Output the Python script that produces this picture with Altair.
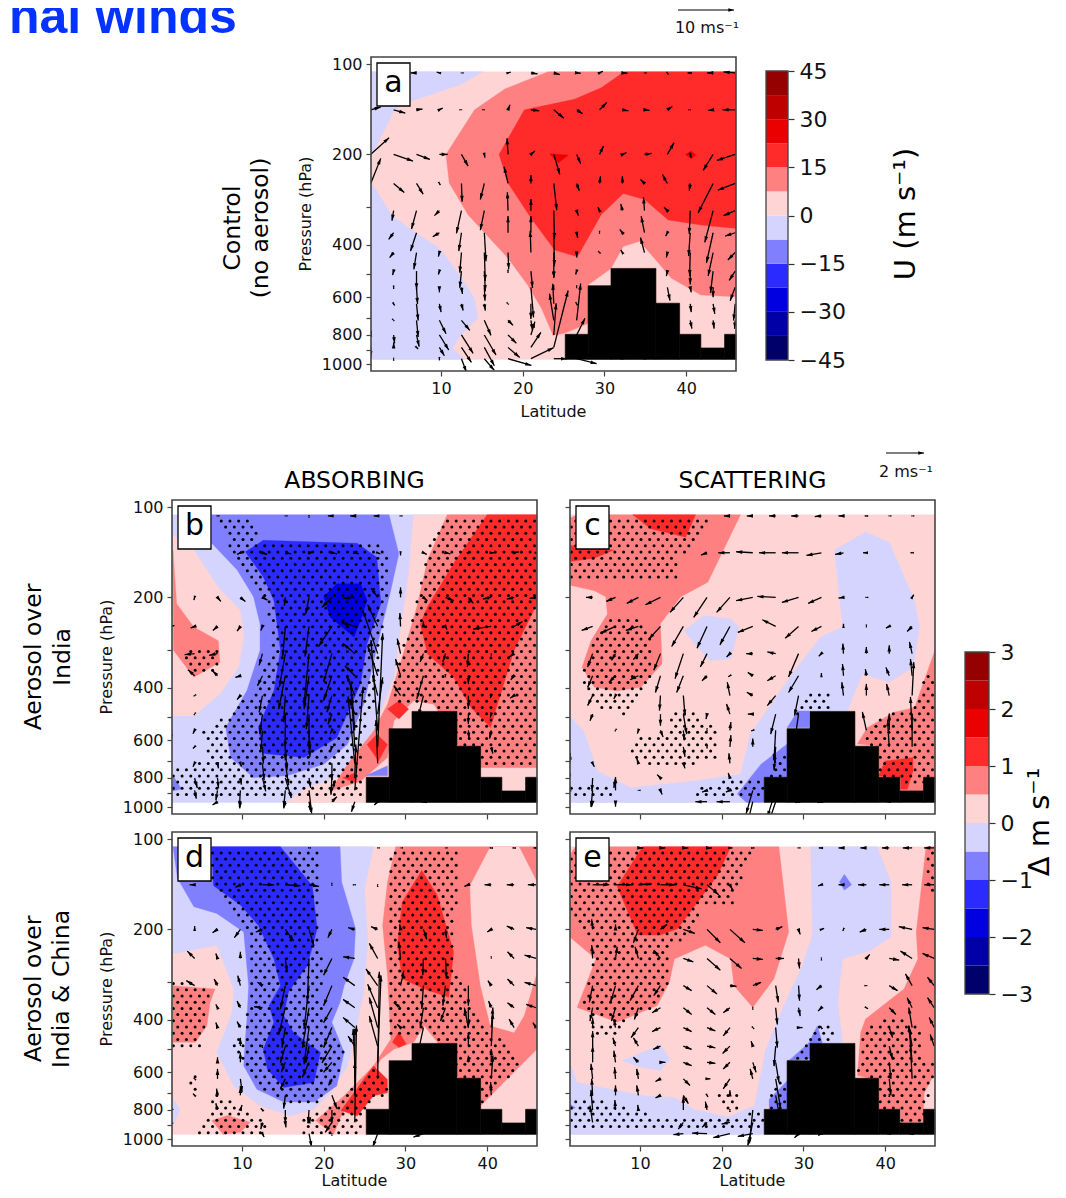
import numpy as np
import pandas as pd
import altair as alt

FONT = "DejaVu Sans"
B3, B2, B1, PB = "#0000e1", "#2b2bff", "#8080ff", "#d4d4ff"
PR, R1, R2, R3 = "#ffd4d4", "#ff8080", "#ff2b2b", "#ea0000"
BAND_COLORS = ["#00006a", "#0000a6", B3, B2, B1, PB, PR, R1, R2, R3, "#bf0000", "#950000"]

LAT_MIN, LAT_MAX, P_TOP, P_BOT = 1.43, 46.1, 94.7, 1055.0
PX_PER_DEG, PX_PER_DECADE = 8.17, 299.0
GRID_TOP, GRID_BOT = 106, 965
COLS = [1.4, 4.2, 7.0, 9.8, 12.5, 15.3, 18.2, 21.0, 23.8, 26.6, 29.4, 32.2, 34.9, 37.7, 40.5, 43.3, 46.0]
LEVELS = [107, 142, 200, 250, 308, 365, 425, 490, 555, 630, 715, 800, 880, 960]
TERRAIN_EDGES = [25.2, 28.0, 30.8, 36.3, 39.2, 41.8, 44.7, 46.1]
TERRAIN_TOPS = [796, 548, 480, 627, 796, 884, 796]

POLY_A = [
    (PR, [(1.4, GRID_TOP), (46.1, GRID_TOP), (46.1, GRID_BOT), (1.4, GRID_BOT)]),
    (PB, [(1.4,106),(15.1,106),(12.4,117),(6.3,133),(4.3,142),(1.6,200),(1.4,200)]),
    (PB, [(1.4,249),(2.2,266),(3.9,318),(6.7,362),(9.8,411),(12.0,493),(14.1,604),(14.5,705),(12.4,802),(11.4,888),(12.9,965),(1.4,965)]),
    (R1, [(23.1,106),(17.8,121),(14.1,142),(10.6,200),(11.0,249),(13.3,318),(18.2,444),(20.6,545),(22.3,653),(23.7,802),(25.1,790),(28.0,733),(28.0,545),(30.8,480),(32.3,406),(34.3,390),(36.1,444),(38.2,518),(41.8,589),(46.1,597),(46.1,106)]),
    (R2, [(32.4,106),(29.6,120),(26.3,131),(20.2,142),(17.1,200),(18.2,249),(21.0,326),(23.9,417),(26.7,439),(29.6,318),(32.3,270),(34.9,283),(37.8,331),(41.8,344),(46.1,353),(46.1,106)]),
    (R3, [(23.3,199),(25.6,201),(24.3,214)]),
    (R3, [(39.9,200),(40.6,195),(41.2,201),(40.6,207)]),
]
POLY_B = [
    (PB, [(1.4, GRID_TOP), (46.1, GRID_TOP), (46.1, GRID_BOT), (1.4, GRID_BOT)]),
    (PR, [(1.55,124),(4.1,139),(7.1,185),(9.8,221),(10.2,271),(9.6,342),(7.3,420),(4.1,497),(1.55,497)]),
    (R1, [(1.55,139),(2.0,210),(4.1,251),(7.1,279),(7.3,329),(4.1,369),(1.6,300)]),
    (PR, [(31.0,106),(46.1,106),(46.1,965),(15.5,965),(17.6,870),(21.6,798),(26.1,558),(28.6,369),(30.4,167)]),
    (R1, [(35.1,106),(46.1,106),(46.1,739),(39.2,739),(36.3,619),(33.5,454),(31.0,442),(28.6,516),(27.8,684),(24.5,820),(20.8,884),(22.9,720),(26.1,558),(27.8,454),(29.6,317),(31.4,215),(32.7,150)]),
    (R2, [(40.0,106),(46.1,106),(46.1,210),(43.3,300),(40.4,543),(38.0,466),(35.9,369),(32.7,309),(31.8,245),(32.7,215),(35.9,154)]),
    (R2, [(27.8,471),(29.2,442),(30.4,471),(29.2,509)]),
    (R2, [(25.3,619),(26.5,572),(27.8,619),(26.7,702)]),
    (R2, [(22.3,800),(23.8,770),(24.0,830)]),
    (B1, [(6.3,106),(28.0,106),(29.2,143),(28.2,190),(27.0,258),(24.9,454),(22.9,619),(20.0,720),(15.5,787),(11.4,798),(8.6,684),(8.0,543),(10.6,409),(12.2,300),(12.2,245),(11.4,199),(9.4,162),(6.3,132)]),
    (B1, [(1.55,787),(2.6,870),(1.55,884)]),
    (B1, [(25.1,787),(27.8,729),(27.8,787)]),
    (B2, [(10.4,141),(12.6,129),(24.1,132),(26.5,147),(27.0,210),(25.3,286),(24.5,388),(21.6,588),(17.6,684),(12.6,663),(12.0,543),(13.9,409),(14.7,300),(13.9,205),(12.6,171)]),
    (B3, [(20.0,199),(21.6,180),(24.5,180),(25.3,205),(24.5,239),(23.7,271),(20.8,233)]),
]
POLY_C = [
    (PR, [(1.4, GRID_TOP), (46.1, GRID_TOP), (46.1, GRID_BOT), (1.4, GRID_BOT)]),
    (R1, [(1.4,109),(2.3,106),(22.3,106),(18.3,178),(15.0,199),(12.5,245),(12.7,333),(10.1,399),(7.2,410),(4.4,399),(2.9,342),(4.0,279),(6.0,227),(5.8,199),(4.4,190),(1.4,182)]),
    (R2, [(9.1,106),(16.8,106),(15.6,126),(11.3,118)]),
    (R2, [(1.4,134),(4.0,137),(6.8,139),(4.4,148),(1.4,152)]),
    (PB, [(1.4,497),(3.1,558),(4.8,760),(8.9,862),(16.6,819),(22.3,777),(23.5,572),(28.9,351),(32.1,271),(34.8,251),(33.8,139),(37.6,121),(40.5,131),(43.6,205),(44.2,251),(43.4,342),(40.5,384),(37.2,360),(35.4,478),(24.8,965),(1.4,965)]),
    (PB, [(15.4,258),(17.8,230),(21.1,236),(22.1,251),(21.1,321),(18.6,325),(17.0,293)]),
    (B1, [(21.9,904),(24.8,720),(28.0,616),(28.0,798),(25.2,798),(25.2,965),(23.0,965)]),
    (B1, [(28.0,544),(29.3,478),(30.7,478),(30.7,544)]),
    (R1, [(36.6,616),(37.8,544),(41.1,483),(43.6,466),(45.2,351),(46.1,300),(46.1,884),(41.9,884),(41.9,798),(39.0,798),(39.0,625)]),
    (R2, [(40.0,702),(43.4,684),(43.4,760),(42.7,873),(41.9,873),(41.9,798),(39.2,787)]),
]
POLY_D = [
    (PR, [(1.4, GRID_TOP), (46.1, GRID_TOP), (46.1, GRID_BOT), (1.4, GRID_BOT)]),
    (PB, [(1.55,106),(26.1,106),(25.0,146),(25.4,220),(24.9,323),(23.7,465),(22.9,570),(20.8,701),(18.8,795),(15.9,838),(12.2,775),(9.0,665),(6.9,514),(8.8,378),(9.0,316),(6.9,226),(1.55,241)]),
    (B1, [(1.55,106),(22.0,106),(22.2,139),(23.9,199),(23.7,251),(22.5,308),(22.0,350),(21.0,408),(22.5,514),(21.6,665),(18.8,753),(15.1,753),(11.8,682),(10.2,570),(10.4,465),(10.6,398),(10.8,308),(10.2,204),(6.9,177),(4.1,168),(2.1,135)]),
    (B2, [(6.3,106),(14.7,106),(18.6,143),(19.2,199),(18.0,264),(15.7,323),(15.1,388),(16.3,441),(19.6,514),(18.8,648),(15.1,673),(13.1,585),(12.6,502),(13.9,408),(13.3,359),(14.7,308),(13.9,251),(12.0,194),(9.8,166),(6.5,143)]),
    (R1, [(28.8,106),(46.1,106),(46.1,502),(42.4,633),(39.2,775),(36.3,615),(33.9,476),(32.3,419),(31.0,476),(28.6,502),(27.0,542),(26.1,600),(22.5,795),(21.2,965),(19.0,868),(22.5,718),(26.1,570),(28.2,465),(27.8,285),(27.2,194),(27.8,139)]),
    (PR, [(37.9,143),(40.4,106),(43.9,106),(46.1,139),(46.1,278),(44.5,388),(43.3,441),(40.4,419),(39.2,308),(38.1,194)]),
    (PB, [(1.6,737),(2.4,795),(1.6,902)]),
    (R2, [(32.0,127),(33.9,154),(35.9,238),(35.3,337),(32.3,316),(29.6,292),(29.0,226),(29.6,162)]),
    (R2, [(28.4,476),(29.2,439),(30.1,482),(29.2,495)]),
    (R2, [(22.1,804),(26.1,570),(27.8,633),(27.8,701),(26.1,718),(24.1,838)]),
    (R1, [(1.55,308),(6.7,316),(6.1,350),(5.7,419),(4.3,476),(1.55,476)]),
    (R1, [(6.3,868),(8.2,834),(11.0,880),(9.8,950),(7.7,965)]),
]
POLY_E = [
    (PR, [(1.4, GRID_TOP), (46.1, GRID_TOP), (46.1, GRID_BOT), (1.4, GRID_BOT)]),
    (R1, [(1.4,113),(2.1,106),(27.0,106),(28.2,204),(26.4,292),(23.8,364),(21.5,308),(21.1,251),(18.0,226),(14.2,251),(13.6,300),(12.1,359),(7.2,408),(2.3,364),(4.6,251),(1.4,212)]),
    (R2, [(10.3,106),(21.1,106),(19.5,132),(14.6,199),(12.5,209),(9.7,209),(7.2,144)]),
    (PB, [(30.9,106),(39.0,106),(40.7,139),(40.7,212),(38.2,235),(34.8,251),(34.2,350),(34.8,476),(25.2,795),(25.2,965),(1.4,965),(1.4,556),(2.3,648),(10.5,718),(14.2,727),(16.6,795),(20.7,846),(24.0,775),(25.4,502),(27.6,359),(29.7,271),(31.1,209)]),
    (PB, [(7.8,548),(12.5,486),(13.7,542),(12.5,591),(10.1,576)]),
    (R1, [(45.0,106),(43.8,204),(44.0,251),(42.3,316),(37.6,398),(37.0,441),(36.6,615),(39.0,633),(39.0,795),(41.9,795),(41.9,882),(44.6,882),(44.8,701),(46.1,600),(46.1,106)]),
    (B1, [(34.4,139),(35.0,131),(35.9,142),(35.0,148)]),
    (B1, [(25.8,737),(28.0,640),(28.0,795),(25.8,795)]),
    (B1, [(28.4,542),(30.5,482),(30.7,476),(31.7,419),(32.3,476),(30.7,542),(28.0,548)]),
    (B1, [(1.4,765),(2.1,786),(1.4,804)]),
]

DOTS_B = [
    [(6.3,108),(11.4,108),(12.2,129),(27.0,129),(28.2,143),(27.4,258),(26.1,466),(24.5,588),(24.9,945),(1.6,945),(1.6,749),(5.7,702),(5.3,558),(8.2,490),(12.2,388),(13.5,300),(13.9,245),(11.4,185),(9.4,154),(8.2,129)],
    [(35.1,108),(46.0,108),(46.0,739),(39.2,720),(36.3,619),(35.9,478),(31.0,454),(28.6,454),(28.2,409),(30.6,239),(32.7,139)],
    [(2.9,300),(4.1,293),(6.9,293),(7.3,325),(6.5,351),(4.1,369),(2.9,342)],
]
DOTS_C = [
    [(1.4,107),(18.5,107),(16.3,136),(14.9,147),(14.5,171),(1.4,171)],
    [(5.6,233),(9.7,227),(11.3,271),(11.3,379),(10.1,410),(10.3,431),(8.0,490),(5.2,478),(3.1,410),(3.1,342),(4.8,265)],
    [(14.2,471),(17.0,490),(19.5,558),(19.5,684),(15.8,739),(10.9,739),(8.4,650),(10.1,586),(12.9,572)],
    [(1.4,829),(5.6,829),(6.8,945),(1.4,945)],
    [(16.9,862),(22.3,798),(25.2,787),(28.0,616),(28.0,787),(25.2,945),(16.9,945)],
    [(28.9,466),(31.7,401),(33.4,420),(33.4,478),(30.7,478),(28.9,503)],
    [(36.6,616),(39.5,503),(43.2,466),(45.2,351),(46.0,369),(46.0,787),(43.6,873),(39.5,787),(39.0,625)],
]
DOTS_D = [
    [(6.3,107),(19.6,107),(19.4,204),(20.0,278),(19.6,350),(20.4,419),(22.5,514),(22.1,633),(19.2,753),(15.1,753),(11.8,682),(9.8,570),(8.2,488),(10.2,453),(11.0,323),(11.2,215),(9.8,189),(8.2,166),(6.3,146)],
    [(28.2,107),(36.3,107),(36.3,150),(35.9,251),(37.1,300),(39.2,419),(40.8,441),(43.3,527),(44.5,570),(42.0,648),(39.2,775),(36.1,615),(33.9,476),(32.3,419),(31.0,465),(27.8,465),(27.8,285),(27.8,150)],
    [(1.55,292),(4.5,300),(6.1,333),(5.3,441),(5.3,495),(1.55,495)],
    [(5.3,727),(7.4,701),(10.2,795),(13.0,861),(13.0,955),(4.1,955),(6.3,815)],
    [(17.1,861),(22.1,737),(26.1,570),(27.8,633),(27.8,718),(24.9,795),(24.9,955),(17.1,955)],
    [(3.3,600),(4.9,600),(4.5,701),(3.5,701)],
]
DOTS_E = [
    [(1.4,107),(24.8,107),(21.5,146),(21.5,166),(17.4,170),(17.4,189),(15.8,220),(13.8,226),(13.4,323),(10.1,398),(7.2,408),(2.7,373),(4.4,251),(3.6,209),(1.4,179)],
    [(2.7,413),(8.0,413),(7.6,447),(4.8,447)],
    [(1.4,737),(7.2,753),(9.7,815),(17.8,861),(20.7,838),(24.0,815),(25.2,795),(25.2,950),(2.7,950),(1.4,861)],
    [(19.9,682),(21.9,701),(22.3,775),(20.7,829),(19.5,737)],
    [(25.8,665),(28.0,633),(28.0,795),(25.8,795)],
    [(28.4,542),(30.7,465),(31.7,408),(33.6,419),(33.6,476),(30.7,476),(30.7,542)],
    [(37.0,441),(39.9,398),(44.4,408),(44.8,570),(46.0,514),(46.0,610),(44.6,882),(41.9,882),(41.9,795),(39.0,795),(39.0,633),(36.6,615)],
    [(45.0,107),(46.0,107),(46.0,162),(45.2,150)],
]

# Wind vectors per pressure level: (column index, eastward, downward) in 1/17 m/s (a) and 1/57 m/s (b-e).
WIND_A = [
    [(2,-18,0),(3,-8,-2),(4,-2,0),(6,8,-2),(7,20,3),(8,18,5),(9,12,1),(10,10,-5),(11,15,1),(12,-2,0),(13,-2,-3),(14,-8,0),(15,-18,0),(16,-35,-3)],
    [(0,30,-8),(1,35,10),(2,18,-2),(3,10,-5),(4,2,0),(5,2,0),(6,6,-15),(7,25,3),(8,30,25),(9,18,12),(10,22,-22),(11,18,3),(12,15,2),(13,15,-10),(14,2,0),(15,-15,2),(16,-38,0)],
    [(0,55,-50),(1,58,20),(2,40,15),(3,25,0),(4,20,35),(5,2,10),(6,-3,-48),(7,12,-10),(8,18,60),(9,12,28),(10,12,-25),(11,12,-5),(12,22,-3),(13,20,-35),(14,3,10),(15,-30,48),(16,-55,18)],
    [(0,30,-75),(1,32,27),(2,20,32),(3,3,5),(4,2,55),(5,-12,48),(6,-12,-50),(7,0,-25),(8,9,80),(9,8,22),(10,3,-22),(11,0,-22),(12,-12,-12),(13,-15,-27),(14,-3,22),(15,-45,88),(16,-52,20)],
    [(1,-5,30),(2,-15,55),(3,-15,15),(4,-15,68),(5,-12,58),(6,-2,-55),(7,0,-35),(8,2,85),(9,5,15),(10,-5,-10),(11,-5,-20),(12,-3,-40),(13,-10,-10),(14,-3,70),(15,-25,95),(16,-35,15)],
    [(1,-15,20),(2,-18,55),(3,-20,12),(4,-8,55),(5,5,85),(6,0,-50),(7,0,-50),(8,2,100),(9,3,15),(10,0,3),(11,-8,-10),(12,-10,-50),(13,-5,10),(14,-5,70),(15,-20,90),(16,-30,10)],
    [(1,-12,15),(2,-8,50),(3,-3,12),(4,-5,60),(5,3,85),(6,2,50),(7,-2,-65),(8,0,75),(9,0,15),(10,3,3),(11,-5,-8),(12,-12,-45),(13,-3,15),(14,-2,70),(15,-15,70),(16,-22,22)],
    [(1,-3,12),(2,0,55),(3,-3,10),(4,-5,50),(5,3,60),(6,0,-5),(7,5,50),(8,0,20),(9,-3,10),(13,-3,15),(14,0,40),(15,-8,65),(16,-18,28)],
    [(1,0,5),(2,3,50),(3,0,15),(4,3,20),(5,2,40),(7,8,90),(8,0,2),(9,0,3),(13,8,40),(14,3,15),(15,0,30),(16,-15,40)],
    [(1,3,5),(2,5,50),(3,5,25),(4,5,20),(5,3,20),(6,2,2),(7,0,45),(8,-3,-60),(9,-3,-5),(14,3,25),(15,5,30),(16,-5,50)],
    [(1,2,2),(2,5,50),(3,20,40),(4,25,30),(5,20,45),(6,15,15),(7,5,30),(8,-13,-80),(9,12,-110),(14,5,25),(15,3,25),(16,-2,25)],
    [(0,2,-12),(1,3,25),(2,8,35),(3,28,45),(4,35,55),(5,35,60),(6,25,25),(7,12,-40),(8,7,-95),(9,25,-50)],
    [(0,0,30),(1,0,-15),(2,5,5),(3,15,25),(4,30,45),(5,30,55),(6,35,30),(7,30,-45),(8,43,-170)],
    [(1,0,-3),(3,0,5),(4,15,40),(5,30,35),(6,70,20),(7,68,-33),(8,40,0),(9,60,15),(11,5,0),(12,-5,0)],
]
WIND_B = [
    [(2,-3,0),(5,-2,0),(6,0,-3),(7,-12,0),(8,-14,0),(9,-12,0),(10,-3,0)],
    [(3,-10,5),(4,15,5),(5,18,3),(6,15,-2),(7,15,3),(8,12,3),(9,8,3),(10,0,8),(11,10,5),(12,15,3),(13,8,-2),(14,10,0),(15,15,-3),(16,8,0)],
    [(1,-2,8),(2,10,12),(3,15,12),(4,15,8),(5,-3,25),(6,-10,50),(7,-30,30),(8,-35,3),(9,-20,-28),(10,0,-30),(11,12,10),(12,25,10),(13,15,18),(14,-25,5),(15,-22,5),(16,-20,3)],
    [(0,8,-3),(1,-12,5),(2,-14,12),(3,-10,14),(4,-5,12),(5,-8,90),(6,-12,90),(7,-40,60),(8,-40,-12),(9,-30,-65),(10,-2,-40),(11,0,-15),(12,5,10),(14,-55,8),(15,25,-15)],
    [(1,-30,3),(2,-25,5),(4,-10,35),(5,-18,100),(6,-15,150),(7,-25,85),(8,-35,-30),(9,-45,-130),(10,-10,-45),(11,-10,25),(12,-8,25),(13,-3,40),(14,0,-2),(15,-15,10)],
    [(1,-20,-18),(2,-15,-15),(3,-15,5),(4,-15,30),(5,-20,100),(6,-15,100),(7,-25,75),(8,-30,-30),(9,-30,-90),(10,-15,-50),(11,-20,70),(12,0,5),(13,0,25),(15,-10,12)],
    [(1,-3,2),(3,-10,12),(4,-10,50),(5,-5,80),(6,-8,100),(7,-15,50),(8,-25,-60),(9,-15,-60),(10,-20,-30),(11,-15,60),(13,0,40),(14,-3,8),(15,-12,8)],
    [(1,-2,3),(4,-8,60),(5,0,100),(6,0,100),(7,-12,30),(8,-15,-45),(9,15,-110),(11,-5,0),(13,0,30),(14,-3,10)],
    [(0,-3,30),(1,-5,10),(4,-5,60),(5,0,90),(6,3,60),(7,-5,10),(8,-8,-100),(9,-20,-270),(13,2,25),(14,-5,25)],
    [(1,-5,5),(4,3,50),(5,5,70),(6,3,30),(7,-5,15),(8,-12,-190),(9,15,-340),(14,5,20)],
    [(1,-5,10),(2,3,15),(3,3,10),(4,5,50),(5,10,65),(6,0,5),(7,0,50),(8,-20,-200),(9,-5,-130)],
    [(1,8,30),(2,3,30),(3,3,20),(4,10,40),(5,18,60),(6,5,30),(7,-3,50),(8,3,-100)],
    [(0,-2,-20),(1,5,25),(2,-5,30),(3,-3,50),(5,-5,50),(6,8,70),(7,10,-30),(8,25,-310)],
    [(2,-15,10),(3,-2,20),(5,-5,20),(6,5,30),(7,15,-15),(8,-10,30),(9,-10,10),(11,10,3)],
]
WIND_C = [
    [(7,-18,0),(8,-18,0),(9,-20,0),(10,-22,0),(11,-20,2),(12,-15,0),(13,-5,0),(14,-2,0),(15,-2,0)],
    [(6,-18,7),(7,-35,0),(8,-50,-3),(9,-50,0),(10,-50,0),(11,-45,8),(12,-25,5),(13,-10,0),(15,-5,0)],
    [(1,-20,0),(2,-28,12),(3,-35,18),(4,-45,22),(5,-40,45),(6,-40,60),(7,-40,45),(8,-50,10),(9,-55,-3),(10,-50,15),(11,-40,18),(12,-15,2),(13,-3,0),(15,5,-8)],
    [(1,-33,12),(2,-45,20),(3,-38,12),(4,-35,38),(5,-35,60),(6,-30,65),(7,-30,55),(8,-45,18),(9,-40,-20),(10,-40,35),(11,-30,15),(12,0,-8),(13,0,3),(14,-10,5),(15,-15,15)],
    [(1,-15,40),(2,-12,20),(3,-15,18),(4,-20,50),(5,-25,75),(6,-20,40),(7,-10,10),(8,-20,0),(9,-25,-5),(10,-30,70),(11,-8,8),(12,-2,-30),(13,0,-20),(14,0,-25),(15,-8,-35)],
    [(1,-15,35),(2,-20,20),(3,-25,12),(4,-15,50),(5,-20,50),(6,-15,15),(7,-5,3),(8,-15,-10),(9,-25,15),(10,-30,50),(11,0,-8),(12,-3,-35),(13,-3,-20),(14,-10,-25),(15,-5,-50)],
    [(1,-15,30),(2,-5,10),(4,-3,45),(5,5,60),(7,-8,-40),(8,-18,-10),(9,-25,30),(10,-12,60),(12,-5,-40),(13,0,-35),(14,-8,-35),(15,5,-100)],
    [(1,-8,20),(4,0,35),(5,10,60),(6,-3,15),(7,-10,-30),(8,-15,0),(9,-15,60),(10,-10,70)],
    [(2,-2,3),(3,-3,10),(4,8,20),(5,3,30),(6,0,3),(7,3,-25),(8,-5,2),(9,-5,90),(13,-12,-55),(14,0,-50),(15,-5,-100)],
    [(5,5,30),(6,0,5),(7,3,-35),(8,0,-25),(9,-5,70),(14,-5,-80),(15,0,-100)],
    [(0,2,-30),(1,5,10),(3,-5,-15),(5,5,15),(7,-3,-30),(9,-5,-30)],
    [(0,-3,-25),(1,-2,40),(2,-5,30),(4,-10,-10),(7,-5,-15)],
    [(0,0,-15),(1,-5,50),(2,0,-40),(3,-2,0),(4,5,12),(6,-15,5),(7,-12,5),(8,-20,70),(9,-25,80)],
    [(1,-3,15),(2,0,15),(6,-35,0),(7,-40,0),(8,-15,60),(9,-20,60),(10,-10,3),(11,-12,3),(14,-8,0)],
]
WIND_D = [
    [(6,-3,0),(9,-2,0),(10,-1,0),(12,-2,0),(14,-5,0),(15,-5,0),(16,-8,0)],
    [(1,-15,0),(3,-15,8),(4,35,0),(5,45,3),(6,30,5),(7,0,3),(8,3,0),(9,0,-2),(13,-12,5),(14,-20,0),(15,-22,0),(16,-25,0)],
    [(1,0,-10),(2,-15,10),(3,-18,25),(4,-20,8),(5,25,35),(6,15,50),(7,-12,25),(8,-20,-5),(9,-20,-8),(10,-3,-15),(11,10,30),(12,3,25),(14,-12,8),(15,-22,-10),(16,-30,-5)],
    [(1,-22,-22),(2,-5,-15),(3,0,-20),(5,5,40),(6,-5,130),(7,-25,50),(8,-35,-5),(9,-25,-45),(10,-5,-50),(11,-2,50),(12,3,60),(14,0,2),(15,-20,-20),(16,-35,-10)],
    [(1,-25,-15),(2,-10,-20),(3,-8,-30),(4,-15,-10),(5,-15,70),(6,-15,130),(7,-25,60),(8,-35,-25),(9,-35,-50),(10,10,-45),(11,-5,70),(12,-8,60),(13,0,60),(14,-10,-15),(15,-20,-20),(16,-35,-10)],
    [(2,-5,-10),(3,-10,-20),(4,-25,-3),(5,-20,80),(6,-20,120),(7,-25,45),(8,-35,-25),(9,-30,-70),(10,-20,-15),(11,-10,60),(12,-15,40),(13,0,60),(14,-8,-20),(15,-20,-15),(16,-30,-10)],
    [(2,-5,-15),(3,-10,-18),(5,-10,60),(6,-15,110),(7,-25,60),(8,-35,-30),(9,-25,-90),(10,-10,-10),(11,-15,70),(13,-12,-60),(14,5,-60),(15,-15,-25),(16,-10,-15)],
    [(3,0,-25),(4,0,-3),(5,-15,50),(6,-10,50),(7,-30,50),(8,-20,-30),(9,-25,-90),(13,0,-40),(14,5,-100)],
    [(2,0,-15),(3,0,-30),(5,-12,30),(6,-20,45),(7,-25,30),(8,-5,-100),(9,10,-260),(13,0,-20),(14,0,-40)],
    [(1,-3,-3),(2,0,-30),(3,5,40),(5,-15,30),(7,-10,20),(8,0,-150),(9,5,-320),(14,5,-70)],
    [(1,-5,-5),(2,-3,-20),(3,0,-25),(5,-5,40),(7,15,40),(8,0,-100),(14,-2,-40)],
    [(0,-3,2),(2,-5,-20),(3,5,-15),(4,-5,-5),(5,0,40),(6,-3,40),(7,0,40)],
    [(0,-3,-3),(4,-5,20),(5,2,15),(6,5,-15),(7,-20,30),(8,5,-290)],
    [(4,5,10),(6,8,40),(7,0,-2),(9,-15,40),(11,-30,10)],
]
WIND_E = [
    [(3,15,0),(4,15,0),(5,15,0),(6,15,0),(7,8,0),(8,5,0),(10,-3,0),(11,-8,0),(12,-15,0),(13,-18,0),(14,-22,0),(15,-28,0),(16,-30,0)],
    [(1,50,0),(2,50,0),(3,40,-3),(4,45,0),(5,55,12),(6,35,30),(7,8,15),(11,-10,3),(12,-15,0),(13,-25,0),(14,-30,0),(15,-30,0),(16,-30,0)],
    [(1,-3,-30),(2,0,-15),(3,-15,40),(4,20,-15),(5,35,12),(6,40,40),(7,45,40),(8,30,3),(9,20,-8),(10,5,15),(11,8,-3),(12,-2,5),(13,-20,8),(14,-30,0),(15,-40,-8),(16,-35,-5)],
    [(1,-3,-40),(2,5,-35),(3,-10,-35),(4,-20,-25),(5,30,10),(6,40,35),(7,35,30),(8,30,3),(9,25,0),(10,3,30),(11,0,-3),(13,10,-12),(14,30,5),(15,-35,-22),(16,-35,-15)],
    [(1,-10,50),(2,-15,50),(3,-25,45),(4,-20,30),(5,25,15),(6,30,25),(7,20,2),(8,25,-10),(9,8,50),(10,3,45),(11,-15,12),(13,3,0),(14,25,15),(15,-20,-35),(16,-20,-25)],
    [(1,-8,40),(2,-12,40),(3,-12,35),(4,-25,15),(5,25,20),(6,25,20),(7,-20,15),(8,0,-3),(9,5,50),(10,5,25),(11,-10,10),(13,5,3),(14,20,20),(15,-15,-30),(16,-20,-30)],
    [(1,0,-30),(2,-5,-25),(3,-22,30),(4,-25,12),(5,25,12),(6,25,10),(7,-20,25),(8,-3,-3),(9,5,60),(10,12,0),(11,-3,-5),(14,10,30),(15,-10,-60),(16,-15,-30)],
    [(1,0,-45),(2,-8,-25),(3,-15,-25),(4,-22,10),(5,25,10),(6,25,5),(7,-22,22),(8,-5,-15),(9,-5,60),(14,10,40),(15,-10,-60),(16,-12,-35)],
    [(1,0,-50),(2,-5,-35),(3,-15,-15),(4,15,0),(5,25,10),(6,25,3),(7,-20,20),(8,10,30),(9,10,60),(14,5,50),(15,-10,-110)],
    [(1,-5,-45),(2,-3,-35),(3,-5,-30),(4,-15,8),(5,20,20),(6,10,0),(7,-20,30),(8,-8,-30),(9,15,90),(14,5,50),(15,-5,-100)],
    [(1,-3,-50),(2,0,-30),(3,-5,-30),(4,-15,8),(5,15,25),(6,3,5),(7,0,-15),(9,15,80),(14,0,-5)],
    [(1,-5,-60),(2,-2,-30),(3,-2,-15),(5,0,-40),(6,-5,-25),(7,0,-3),(8,-10,100)],
    [(0,0,-2),(1,-8,-50),(5,-15,20),(6,-15,15),(7,-25,5),(8,-15,70)],
    [(5,-30,3),(6,-45,-2),(7,-50,12),(8,-45,8),(10,-12,12),(11,-10,5),(14,-8,0),(15,-10,0)],
]

ONE = alt.Data(values=[{"k": 1}])
XS = alt.Scale(domain=[LAT_MIN, LAT_MAX], nice=False, zero=False)
YS = alt.Scale(type="log", domain=[P_TOP, P_BOT], reverse=True, nice=False)
HEAD = "M0,0L0.5,1.7L-0.5,1.7Z"


def text_at(s, x, y, size, angle=0, color="#000", font=FONT, weight="normal", align="center", baseline="middle", clip=False):
    return alt.Chart(ONE).mark_text(text=s, fontSize=size, angle=angle, color=color, font=font, fontWeight=weight,
                                    align=align, baseline=baseline, clip=clip).encode(x=alt.value(x), y=alt.value(y))


def spacer(w, h):
    return alt.Chart(ONE).mark_point(opacity=0, size=1).encode(x=alt.value(w / 2), y=alt.value(h / 2)).properties(
        width=w, height=h, view=alt.ViewBackground(stroke="transparent"))


def in_poly(x, y, poly):
    inside = False
    n = len(poly)
    for i in range(n):
        x1, y1 = poly[i]
        x2, y2 = poly[(i + 1) % n]
        if (y1 > y) != (y2 > y) and x < x1 + (y - y1) * (x2 - x1) / (y2 - y1):
            inside = not inside
    return inside


def dots_frame(regions):
    pts = []
    logs = np.arange(np.log10(106), np.log10(962), 6.2 / PX_PER_DECADE)
    for j, lp in enumerate(logs):
        lats = np.arange(1.6 + (j % 2) * 0.532, 46.1, 8.7 / PX_PER_DEG)
        for la in lats:
            if any(in_poly(la, lp, [(a, np.log10(b)) for a, b in r]) for r in regions):
                pts.append({"lat": float(la), "p": float(10 ** lp)})
    return pd.DataFrame(pts)


def wind_frame(rows):
    out = []
    for level, row in zip(LEVELS, rows):
        for col, dx, dy in row:
            lat, px, py = COLS[col], dx / 3, dy / 3
            L = float(np.hypot(px, py))
            out.append({"lat": lat, "p": level, "lat2": lat + px / PX_PER_DEG,
                        "p2": level * 10 ** (py / PX_PER_DECADE),
                        "ang": float(np.degrees(np.arctan2(px, -py)) % 360),
                        "sz": min(52.0, 10 + L * L * 2.2)})
    return pd.DataFrame(out)


def panel(polys, dots, wind, label, x_labels, y_labels, h=314):
    w = 365
    ax_x = alt.Axis(values=[10, 20, 30, 40], labels=x_labels, title=None, grid=False, domain=False, tickColor="#444",
                    tickWidth=1.2, tickSize=5, labelFontSize=16, labelFont=FONT, labelColor="#111", labelPadding=4)
    ax_y = alt.Axis(values=list(range(100, 1001, 100)), labels=y_labels, title=None, grid=False, domain=False,
                    tickColor="#444", tickWidth=1.2, tickSize=5, labelFontSize=16, labelFont=FONT, labelColor="#111",
                    labelOverlap=False, labelFlush=False, format="d", labelPadding=4,
                    labelExpr="indexof([100,200,400,600,800,1000], datum.value) >= 0 ? datum.label : ''")
    layers = []
    for n, (c, verts) in enumerate(polys):
        closed = verts + [verts[0]]
        df = pd.DataFrame({"lat": [v[0] for v in closed], "p": [v[1] for v in closed], "i": range(len(closed))})
        layers.append(alt.Chart(df).mark_line(fill=c, stroke=c, strokeWidth=0.3, clip=True).encode(
            x=alt.X("lat:Q", scale=XS, axis=ax_x),
            y=alt.Y("p:Q", scale=YS, axis=ax_y),
            order="i:Q"))
    terrain = pd.DataFrame({"a": TERRAIN_EDGES[:-1], "b": TERRAIN_EDGES[1:], "t": TERRAIN_TOPS,
                            "u": [GRID_BOT] * len(TERRAIN_TOPS)})
    layers.append(alt.Chart(terrain).mark_rect(color="#000", stroke="#000", strokeWidth=0.6).encode(
        x=alt.X("a:Q", scale=XS, axis=ax_x), x2="b:Q", y=alt.Y("t:Q", scale=YS, axis=ax_y), y2="u:Q"))
    if dots:
        layers.append(alt.Chart(dots_frame(dots)).mark_point(filled=True, color="#000", size=9, opacity=1).encode(
            x=alt.X("lat:Q", scale=XS, axis=ax_x), y=alt.Y("p:Q", scale=YS, axis=ax_y)))
    wf = wind_frame(wind)
    layers.append(alt.Chart(wf).mark_rule(color="#000", strokeWidth=1.3, clip=True).encode(
        x=alt.X("lat:Q", scale=XS, axis=ax_x), x2="lat2:Q", y=alt.Y("p:Q", scale=YS, axis=ax_y), y2="p2:Q"))
    layers.append(alt.Chart(wf).mark_point(filled=True, color="#000", shape=HEAD, opacity=1, clip=True).encode(
        x=alt.X("lat2:Q", scale=XS, axis=ax_x), y=alt.Y("p2:Q", scale=YS, axis=ax_y),
        angle=alt.Angle("ang:Q", scale=None), size=alt.Size("sz:Q", scale=None)))
    layers.append(alt.Chart(ONE).mark_rect(fill="transparent", stroke="#444", strokeWidth=1.6).encode(
        x=alt.value(0), x2=alt.value(w), y=alt.value(0), y2=alt.value(h)))
    layers.append(alt.Chart(ONE).mark_rect(fill="#fff", stroke="#000", strokeWidth=1.3).encode(
        x=alt.value(6), x2=alt.value(39), y=alt.value(6), y2=alt.value(49)))
    layers.append(text_at(label, 22.5, 35, 30, baseline="alphabetic"))
    return layers


def colorbar(levels, ticks, w, h):
    df = pd.DataFrame({"lo": levels[:-1], "hi": levels[1:], "c": BAND_COLORS})
    ys = alt.Scale(domain=[levels[0], levels[-1]], nice=False, zero=False)
    ax = alt.Axis(values=ticks, orient="right", title=None, grid=False, domain=False, tickColor="#333", tickWidth=1.2,
                  tickSize=6, labelFontSize=22, labelFont=FONT, labelColor="#111", labelPadding=5, labelOverlap=False,
                  labelFlush=False, labelExpr="datum.value < 0 ? '\u2212' + abs(datum.value) : '' + datum.value")
    bars = alt.Chart(df).mark_rect().encode(
        x=alt.value(0), x2=alt.value(w), y=alt.Y("lo:Q", scale=ys, axis=ax), y2="hi:Q",
        fill=alt.Fill("c:N", scale=None))
    frame = alt.Chart(ONE).mark_rect(fill="transparent", stroke="#444", strokeWidth=1.3).encode(
        x=alt.value(0), x2=alt.value(w), y=alt.value(0), y2=alt.value(h))
    return [bars, frame]


def ref_arrow(x1, x2, y, clip=False):
    return [alt.Chart(ONE).mark_rule(color="#000", strokeWidth=1.1, clip=clip).encode(
                x=alt.value(x1), x2=alt.value(x2), y=alt.value(y), y2=alt.value(y)),
            alt.Chart(ONE).mark_point(filled=True, color="#000", shape=HEAD, angle=90, size=45, opacity=1, clip=clip).encode(
                x=alt.value(x2), y=alt.value(y))]


def xtitle(y):
    return text_at("Latitude", 182.5, y, 16, color="#111")


def ytitle():
    return text_at("Pressure (hPa)", -65, 157, 16, angle=270, color="#111")


A = alt.layer(*panel(POLY_A, [], WIND_A, "a", True, True), ytitle(), xtitle(355),
              text_at("Control", -138, 171, 23.5, angle=270),
              text_at("(no aerosol)", -110, 171, 23.5, angle=270)).properties(width=365, height=314)
B = alt.layer(*panel(POLY_B, DOTS_B, WIND_B, "b", False, True), ytitle(),
              text_at("ABSORBING", 182.5, -19, 23.5),
              text_at("Aerosol over", -138, 157, 23.5, angle=270),
              text_at("India", -109, 157, 23.5, angle=270)).properties(width=365, height=314)
C = alt.layer(*panel(POLY_C, DOTS_C, WIND_C, "c", False, False),
              text_at("SCATTERING", 182.5, -19, 23.5),
              *ref_arrow(316, 354, -47), text_at("2 ms\u207b\u00b9", 336, -28, 16, color="#111")
              ).properties(width=365, height=314)
D = alt.layer(*panel(POLY_D, DOTS_D, WIND_D, "d", True, True), ytitle(), xtitle(349),
              text_at("Aerosol over", -138, 157, 23.5, angle=270),
              text_at("India & China", -110, 157, 23.5, angle=270)).properties(width=365, height=314)
E = alt.layer(*panel(POLY_E, DOTS_E, WIND_E, "e", True, False), xtitle(349)).properties(width=365, height=314)

CB_TOP = alt.layer(*colorbar([-45 + 7.5 * i for i in range(13)], [-45, -30, -15, 0, 15, 30, 45], 22, 289),
                   text_at("U (m s\u207b\u00b9)", 140, 143, 29, angle=270)).properties(width=22, height=289)
CB_BOT = alt.layer(*colorbar([-3 + 0.5 * i for i in range(13)], [-3, -2, -1, 0, 1, 2, 3], 24, 342),
                   text_at("\u0394 m s\u207b\u00b9", 75, 170, 29, angle=270)).properties(width=24, height=342)

TITLE = alt.layer(text_at("nal winds", 0, 25, 50, color="#0433ff", font="Liberation Sans", weight="bold",
                          align="left", baseline="alphabetic", clip=True),
                  *ref_arrow(669, 725, 2, clip=True),
                  text_at("10 ms\u207b\u00b9", 698, 20, 16, color="#111", clip=True)).properties(
    width=1040, height=49, view=alt.ViewBackground(stroke="transparent"))

row_a = alt.hconcat(spacer(362, 10), A, spacer(30, 10), alt.vconcat(spacer(22, 14), CB_TOP, spacing=0, bounds="flush"),
                    spacing=0, bounds="flush")
row_bc = alt.hconcat(spacer(163, 10), B, spacer(33, 10), C, spacer(30, 10),
                     alt.vconcat(spacer(24, 152), CB_BOT, spacing=0, bounds="flush"), spacing=0, bounds="flush")
row_de = alt.hconcat(spacer(163, 10), D, spacer(33, 10), E, spacing=0, bounds="flush")

chart = alt.vconcat(TITLE, row_a, spacer(10, 443), row_bc, spacer(10, 332), row_de, spacing=0, bounds="flush").properties(
    padding={"left": 0, "top": -1, "right": 0, "bottom": 0}).resolve_scale(
    x="independent", y="independent", color="independent", fill="independent",
    size="independent", angle="independent").configure_view(stroke=None)

chart.save("out.html", embed_options={"renderer": "svg", "actions": False})
